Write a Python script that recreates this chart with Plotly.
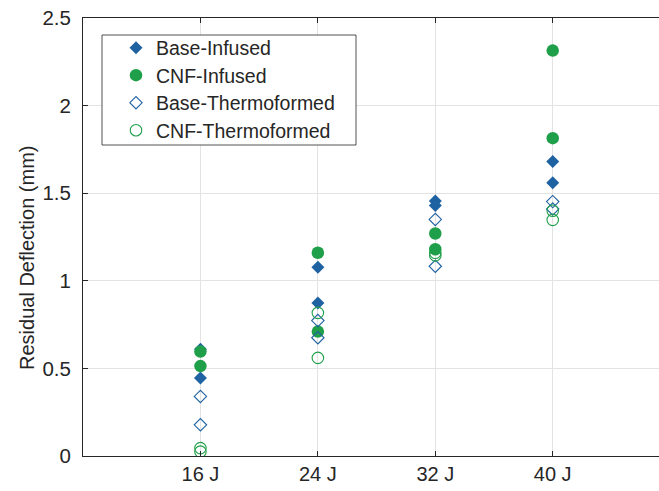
import plotly.graph_objects as go

categories = ["16 J", "24 J", "32 J", "40 J"]
cat_pos = [1, 2, 3, 4]

# two specimens per configuration per impact energy
base_infused = [[0.61, 0.445], [1.078, 0.874], [1.455, 1.43], [1.681, 1.56]]
cnf_infused = [[0.596, 0.513], [1.16, 0.71], [1.27, 1.18], [2.314, 1.814]]
base_thermo = [[0.34, 0.178], [0.773, 0.675], [1.35, 1.083], [1.452, 1.41]]
cnf_thermo = [[0.045, 0.025], [0.817, 0.56], [1.16, 1.145], [1.40, 1.348]]

blue = "#1f62a1"
green = "#1f9f4a"
axcol = "#262626"
font = "Liberation Sans, Arial, Helvetica, sans-serif"

L, T, B, W, H = 83, 18, 35, 659, 491
PW, PH = W - L, H - T - B


def px_x(p):
    return (p - L) / PW


def px_y(p):
    return 1 - (p - T) / PH


def flatten(groups):
    xs, ys = [], []
    for xp, vals in zip(cat_pos, groups):
        for v in vals:
            xs.append(xp)
            ys.append(v)
    return xs, ys


series = [
    ("Base-Infused", base_infused, "diamond", blue, 10, 0),
    ("CNF-Infused", cnf_infused, "circle", green, 12.5, 0),
    ("Base-Thermoformed", base_thermo, "diamond-open", blue, 9.5, 1.1),
    ("CNF-Thermoformed", cnf_thermo, "circle-open", green, 11.5, 1.1),
]
legend_rows = [48, 75.5, 103, 130.5]
legend_names = ["legend", "legend2", "legend3", "legend4"]

fig = go.Figure()
for i, (name, data, sym, col, sz, lw) in enumerate(series):
    xs, ys = flatten(data)
    fig.add_trace(go.Scatter(
        x=xs, y=ys, mode="markers", name=name, legend=legend_names[i],
        marker=dict(symbol=sym, size=sz, color=col,
                    line=dict(width=lw, color=col)),
    ))

layout_legends = {}
for i, ln in enumerate(legend_names):
    layout_legends[ln] = dict(
        x=px_x(116), y=px_y(legend_rows[i]), xanchor="left", yanchor="middle",
        bgcolor="rgba(0,0,0,0)", borderwidth=0,
        font=dict(family=font, size=19.5, color=axcol),
        itemwidth=30,
    )

fig.update_layout(
    width=W, height=H,
    margin=dict(l=L, r=0, t=T, b=B),
    paper_bgcolor="white", plot_bgcolor="white",
    font=dict(family=font, size=19.5, color=axcol),
    showlegend=True,
    shapes=[dict(type="rect", xref="paper", yref="paper",
                 x0=px_x(102), x1=px_x(356),
                 y0=px_y(145), y1=px_y(35),
                 line=dict(color=axcol, width=0.8), fillcolor="white",
                 layer="above")],
    annotations=[dict(text="Residual Deflection (mm)", xref="paper", yref="paper",
                      x=px_x(27), y=px_y(258), xanchor="center", yanchor="middle",
                      textangle=-90, showarrow=False,
                      font=dict(family=font, size=20, color=axcol))],
    **layout_legends,
)

fig.update_xaxes(
    range=[0, 4.905], tickmode="array", tickvals=cat_pos, ticktext=categories,
    showgrid=True, gridcolor="#e3e3e3", gridwidth=1,
    showline=True, linecolor=axcol, linewidth=1, mirror="ticks",
    ticks="inside", ticklen=5, tickcolor=axcol, zeroline=False,
    tickfont=dict(size=20, color=axcol),
)
fig.update_yaxes(
    range=[0, 2.5], tickmode="array", tickvals=[0, 0.5, 1, 1.5, 2, 2.5],
    ticktext=["0", "0.5", "1", "1.5", "2", "2.5"],
    showgrid=True, gridcolor="#e3e3e3", gridwidth=1,
    showline=True, linecolor=axcol, linewidth=1, mirror=False,
    ticks="inside", ticklen=5, tickcolor=axcol, zeroline=False,
    tickfont=dict(size=20.5, color=axcol), ticklabelstandoff=7,
)

fig.write_html("out.html")
